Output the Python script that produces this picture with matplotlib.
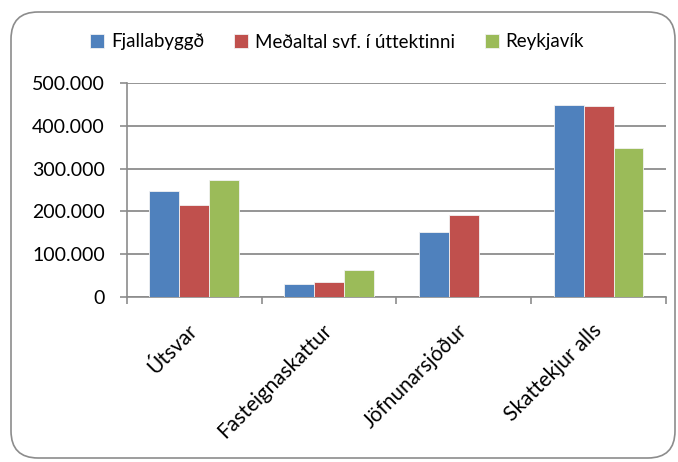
import matplotlib
matplotlib.use("Agg")
import matplotlib.pyplot as plt
import numpy as np
from matplotlib.patches import FancyBboxPatch
from matplotlib.ticker import FuncFormatter

plt.rcParams['font.family'] = ['Lato', 'DejaVu Sans']

categories = ['Útsvar', 'Fasteignaskattur', 'Jöfnunarsjóður', 'Skattekjur alls']
series_names = ['Fjallabyggð', 'Meðaltal svf. í úttektinni', 'Reykjavík']
fjallabyggd = [247000, 31000, 152000, 448000]
medaltal = [214000, 34000, 192000, 446000]
reykjavik = [274000, 64000, 1000, 349000]
colors = ['#4F81BD', '#C0504D', '#9BBB59']

fig = plt.figure(figsize=(6.78, 4.62), dpi=100)
ax = fig.add_axes([0.1873, 0.3571, 0.795, 0.4632])

# rounded chart-area border
border = FancyBboxPatch((11 / 678, 4 / 462), 664 / 678, 446 / 462,
                        boxstyle="round,pad=0,rounding_size=0.04",
                        transform=fig.transFigure, facecolor='none',
                        edgecolor='#8C8C8C', lw=1.2, mutation_aspect=678 / 462)
fig.patches.append(border)

x = np.arange(len(categories))
w = 0.222
for i, (vals, name) in enumerate(zip([fjallabyggd, medaltal, reykjavik], series_names)):
    ax.bar(x + (i - 1) * w, vals, w, color=colors[i], label=name,
           edgecolor='#F2F2F2', linewidth=0.6, zorder=3)

ax.set_xlim(-0.5, len(categories) - 0.5)
ax.set_ylim(0, 500000)
ax.set_yticks(np.arange(0, 500001, 100000))
ax.yaxis.set_major_formatter(FuncFormatter(lambda v, p: f"{int(v):,}".replace(',', '.')))
ax.grid(axis='y', color='#8C8C8C', lw=1.3, zorder=0)

ax.set_xticks(x)
ax.set_xticklabels(categories, rotation=45, ha='right', va='center',
                   rotation_mode='anchor', fontsize=15)
ax.set_xticks(np.arange(-0.5, len(categories)), minor=True)
ax.tick_params(axis='x', which='major', length=0, pad=22)
ax.tick_params(axis='x', which='minor', length=5, color='#8C8C8C', width=1.2)
ax.tick_params(axis='y', length=5, color='#8C8C8C', width=1.2, pad=11,
               labelsize=14)

for s in ['top', 'right']:
    ax.spines[s].set_visible(False)
for s in ['left', 'bottom']:
    ax.spines[s].set_color('#8C8C8C')
    ax.spines[s].set_linewidth(1.2)

fig.legend(loc='center', bbox_to_anchor=(0.497, 1 - 42 / 462), ncol=3,
           frameon=False, fontsize=13.5, handlelength=0.75, handleheight=0.75,
           handletextpad=0.35, columnspacing=1.6)

fig.savefig('out.png', dpi=100)
